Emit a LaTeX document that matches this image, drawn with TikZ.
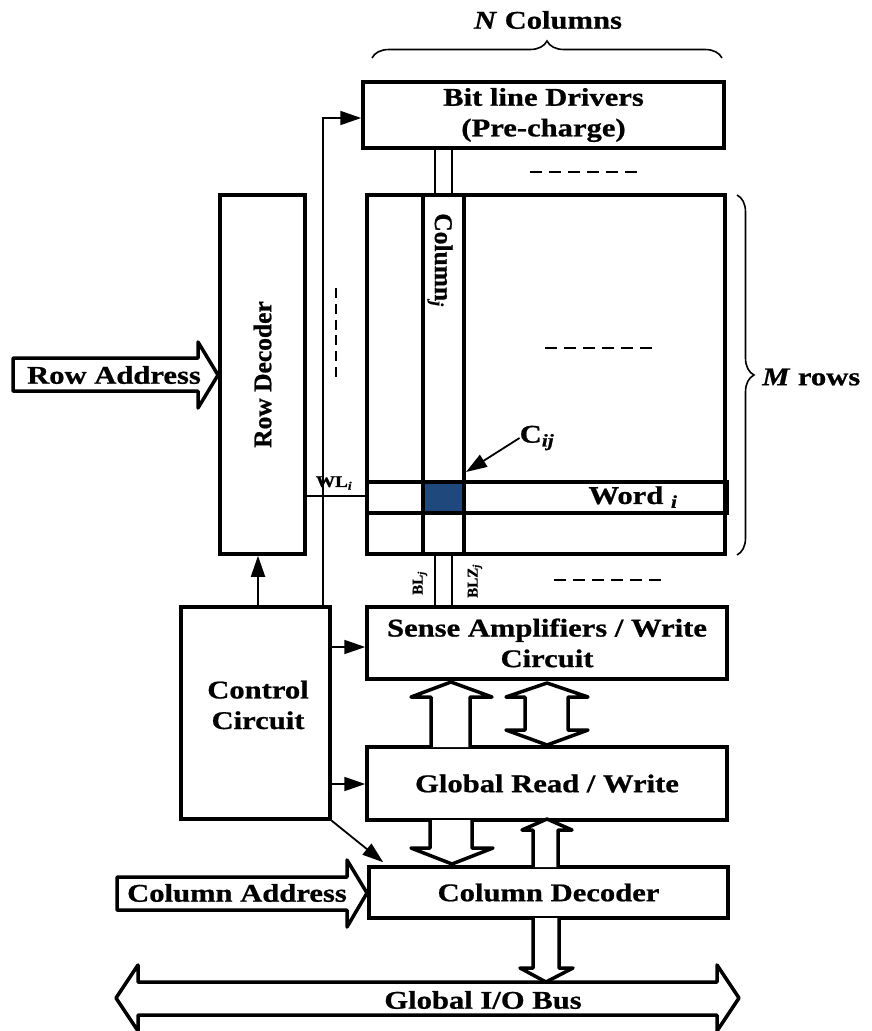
\documentclass[tikz,border=0pt]{standalone}
\usepackage{fontspec}
\setmainfont{Liberation Serif}[FakeStretch=1.2,BoldFeatures={FakeBold=0.8},BoldItalicFeatures={FakeBold=0.8}]
\newfontfamily\rotfont{Liberation Serif}[BoldFeatures={FakeBold=0.8},BoldItalicFeatures={FakeBold=0.8}]
\usetikzlibrary{arrows.meta,decorations.pathreplacing,calc}
\definecolor{cellblue}{RGB}{31,73,125}
\tikzset{
  box/.style={draw,line width=3.5pt,inner sep=0pt,align=center,font=\bfseries\fontsize{25.5}{30.6}\selectfont},
  thinln/.style={line width=1.8pt},
  arr/.style={line width=1.8pt,-{Triangle[length=21pt,width=14pt]}},
  blk/.style={draw,line width=3.5pt,fill=white,line join=round},
  thick3/.style={line width=3.5pt},
  dashln/.style={line width=2pt,dash pattern=on 12pt off 7pt},
  vdashln/.style={line width=2pt,dash pattern=on 10pt off 5.8pt},
  lbl/.style={inner sep=0pt,align=center,font=\bfseries\fontsize{25.5}{30.6}\selectfont},
  rlbl/.style={inner sep=0pt,font=\rotfont\bfseries\fontsize{25.5}{30.6}\selectfont},
  small/.style={inner sep=0pt,font=\bfseries\fontsize{16}{18}\selectfont},
  rsmall/.style={inner sep=0pt,font=\rotfont\bfseries\fontsize{15}{17}\selectfont},
  br/.style={decorate,decoration={brace,amplitude=17pt},line width=1.6pt}
}
\begin{document}
\begin{tikzpicture}[x=1pt,y=-1pt]
\useasboundingbox (0,0) rectangle (871,1031);

% boxes
\node[box,minimum width=361pt,minimum height=66pt] (bld) at (543.5,115) {Bit line Drivers\\(Pre-charge)};
\node[box,minimum width=358pt,minimum height=359pt] (array) at (546,374.5) {};
\node[box,minimum width=85pt,minimum height=359pt] (rowdec) at (262.5,374.5) {};
\node[box,minimum width=149pt,minimum height=212pt] (ctrl) at (255.5,713) {};
\node[box,minimum width=360pt,minimum height=72pt] (sense) at (547,643) {Sense Amplifiers / Write\\Circuit};
\node[box,minimum width=360pt,minimum height=73pt] (grw) at (547,783.5) {Global Read / Write};
\node[box,minimum width=359pt,minimum height=51pt] (coldec) at (548.5,892.5) {Column Decoder};

% array internals
\fill[cellblue] (423,482) rectangle (464,513);
\draw[thick3] (423,195) rectangle (464,554);
\draw[thick3] (367,482) rectangle (727,513);
\draw[thick3] (367,195) rectangle (725,554);

% texts
\node[rlbl,rotate=90] (rdtext) at (rowdec.center) {Row Decoder};
\node[lbl] (cctext) at (258,705) {Control\\Circuit};
\node[rlbl,rotate=-90] (coltext) at (440,260) {Column\textsubscript{\textit{j}}};
\node[lbl] (wordtext) at (633,497) {Word~\textsubscript{\textit{i}}};
\node[lbl] (cij) at (537,438) {C\textsubscript{\textit{ij}}};
\coordinate (cell) at (466,472);
\draw[arr] (cij.west) -- (cell);
\node[lbl] (ncol) at (548,20) {\textit{N} Columns};
\node[lbl,anchor=west] (mrows) at (762,377) {\textit{M} rows};
\node[small] (wl) at (334,483) {WL\textsubscript{\textit{i}}};
\node[rsmall,rotate=90] (bl) at (420,583) {BL\textsubscript{\textit{j}}};
\node[rsmall,rotate=90] (blz) at (475,581) {BLZ\textsubscript{\textit{j}}};

% braces
\draw[br] (372,58) -- (722,58);
\draw[br] (737,195) -- (737,555);

% dashes
\draw[dashln] (530,172) -- (637,172);
\draw[dashln] (545,348) -- (653,348);
\draw[dashln] (554,580) -- (662,580);
\draw[vdashln] (336,288) -- (336,377);

% bit lines
\draw[line width=2.5pt] (bld.south -| 435,0) -- (array.north -| 435,0);
\draw[line width=2.5pt] (bld.south -| 452,0) -- (array.north -| 452,0);
\draw[line width=2.2pt] (array.south -| 435,0) -- (sense.north -| 435,0);
\draw[line width=2.2pt] (array.south -| 452,0) -- (sense.north -| 452,0);

% word line
\draw[thinln] (rowdec.east |- 0,496) -- (array.west |- 0,496);

% control connectors
\draw[arr] (ctrl.north -| 323,0) |- (bld.west |- 0,118);
\draw[arr] (ctrl.north -| 258,0) -- (rowdec.south -| 258,0);
\draw[arr] (ctrl.east |- 0,647) -- (sense.west |- 0,647);
\draw[arr] (ctrl.east |- 0,784) -- (grw.west |- 0,784);
\draw[arr] (ctrl.south east) -- ($(coldec.north west)+(16,-3)$);

% block arrows
\draw[blk] (13,358) -- (198,358) -- (198,342) -- (218,375) -- (198,408) -- (198,391) -- (13,391) -- cycle;
\node[lbl] (rowaddr) at (114,375) {Row Address};
\draw[blk] (117,877) -- (347,877) -- (347,860) -- (367,893) -- (347,927) -- (347,910) -- (117,910) -- cycle;
\node[lbl] (coladdr) at (237,893) {Column Address};

% sense <-> global
\draw[blk] (431,747) -- (431,697) -- (411,697) -- (451,682) -- (492,697) -- (470,697) -- (470,747);
\draw[blk] (525,697) -- (506,697) -- (547,683) -- (588,697) -- (568,697) -- (568,730) -- (588,730) -- (547,745) -- (506,730) -- (525,730) -- cycle;
% global <-> column decoder
\draw[blk] (430,820) -- (430,848) -- (411,848) -- (452,864) -- (493,848) -- (472,848) -- (472,820);
\draw[blk] (533,867) -- (533,830) -- (522,830) -- (547,819) -- (572,830) -- (558,830) -- (558,867);
% column decoder -> bus
\draw[blk] (533,918) -- (533,968) -- (520,968) -- (546,982) -- (573,968) -- (559,968) -- (559,918);
% bus
\draw[blk] (116,998) -- (138,965) -- (138,982) -- (717,982) -- (717,965) -- (739,998) -- (717,1031) -- (717,1015) -- (138,1015) -- (138,1031) -- cycle;
\node[lbl] (bus) at (483,1000) {Global I/O Bus};
\end{tikzpicture}
\end{document}
